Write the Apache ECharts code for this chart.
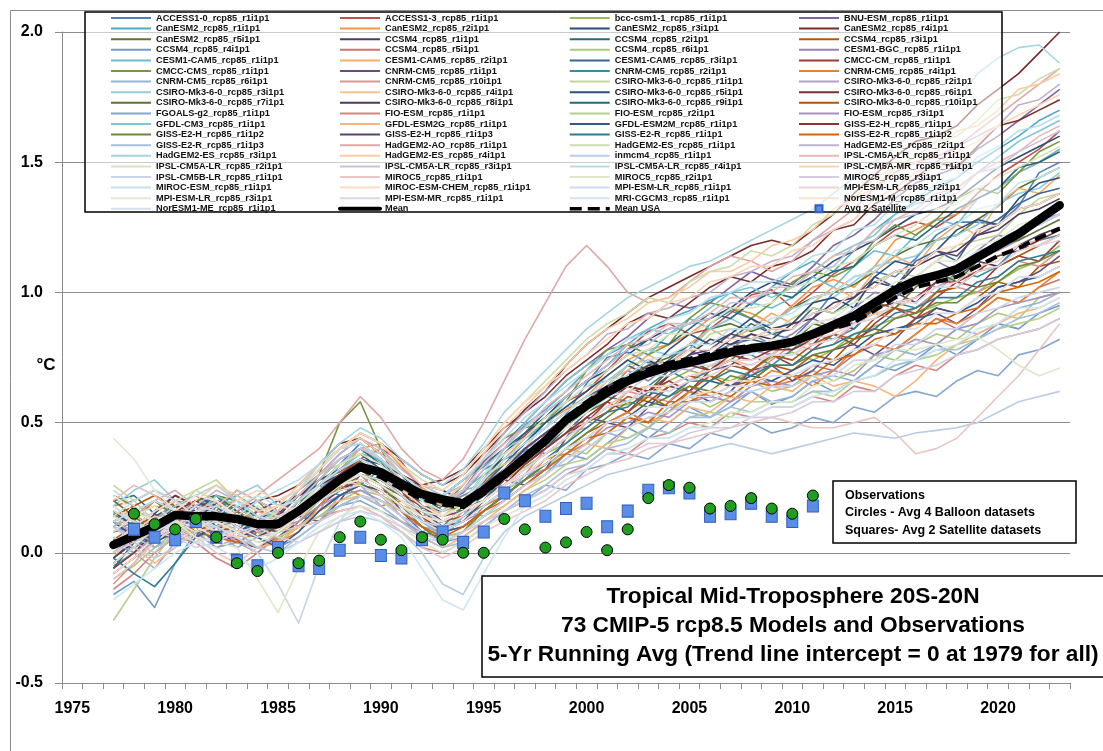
<!DOCTYPE html>
<html><head><meta charset="utf-8">
<script src="https://cdn.jsdelivr.net/npm/echarts@6.0.0/dist/echarts.min.js"></script>
<style>html,body{margin:0;padding:0;background:#fff}#c{width:1103px;height:751px}</style>
</head><body><div id="c"></div>
<script>
// ---- categories (x axis): 1975..2023 ----
const years = [];
for (let y = 1975; y <= 2023; y++) years.push(String(y));
const modelStartYear = 1977;   // model & mean series: 1977..2023
const obsStartYear = 1978;     // observations: 1978..2011

const modelNames = [
'ACCESS1-0_rcp85_r1i1p1','ACCESS1-3_rcp85_r1i1p1','bcc-csm1-1_rcp85_r1i1p1','BNU-ESM_rcp85_r1i1p1',
'CanESM2_rcp85_r1i1p1','CanESM2_rcp85_r2i1p1','CanESM2_rcp85_r3i1p1','CanESM2_rcp85_r4i1p1',
'CanESM2_rcp85_r5i1p1','CCSM4_rcp85_r1i1p1','CCSM4_rcp85_r2i1p1','CCSM4_rcp85_r3i1p1',
'CCSM4_rcp85_r4i1p1','CCSM4_rcp85_r5i1p1','CCSM4_rcp85_r6i1p1','CESM1-BGC_rcp85_r1i1p1',
'CESM1-CAM5_rcp85_r1i1p1','CESM1-CAM5_rcp85_r2i1p1','CESM1-CAM5_rcp85_r3i1p1','CMCC-CM_rcp85_r1i1p1',
'CMCC-CMS_rcp85_r1i1p1','CNRM-CM5_rcp85_r1i1p1','CNRM-CM5_rcp85_r2i1p1','CNRM-CM5_rcp85_r4i1p1',
'CNRM-CM5_rcp85_r6i1p1','CNRM-CM5_rcp85_r10i1p1','CSIRO-Mk3-6-0_rcp85_r1i1p1','CSIRO-Mk3-6-0_rcp85_r2i1p1',
'CSIRO-Mk3-6-0_rcp85_r3i1p1','CSIRO-Mk3-6-0_rcp85_r4i1p1','CSIRO-Mk3-6-0_rcp85_r5i1p1','CSIRO-Mk3-6-0_rcp85_r6i1p1',
'CSIRO-Mk3-6-0_rcp85_r7i1p1','CSIRO-Mk3-6-0_rcp85_r8i1p1','CSIRO-Mk3-6-0_rcp85_r9i1p1','CSIRO-Mk3-6-0_rcp85_r10i1p1',
'FGOALS-g2_rcp85_r1i1p1','FIO-ESM_rcp85_r1i1p1','FIO-ESM_rcp85_r2i1p1','FIO-ESM_rcp85_r3i1p1',
'GFDL-CM3_rcp85_r1i1p1','GFDL-ESM2G_rcp85_r1i1p1','GFDL-ESM2M_rcp85_r1i1p1','GISS-E2-H_rcp85_r1i1p1',
'GISS-E2-H_rcp85_r1i1p2','GISS-E2-H_rcp85_r1i1p3','GISS-E2-R_rcp85_r1i1p1','GISS-E2-R_rcp85_r1i1p2',
'GISS-E2-R_rcp85_r1i1p3','HadGEM2-AO_rcp85_r1i1p1','HadGEM2-ES_rcp85_r1i1p1','HadGEM2-ES_rcp85_r2i1p1',
'HadGEM2-ES_rcp85_r3i1p1','HadGEM2-ES_rcp85_r4i1p1','inmcm4_rcp85_r1i1p1','IPSL-CM5A-LR_rcp85_r1i1p1',
'IPSL-CM5A-LR_rcp85_r2i1p1','IPSL-CM5A-LR_rcp85_r3i1p1','IPSL-CM5A-LR_rcp85_r4i1p1','IPSL-CM5A-MR_rcp85_r1i1p1',
'IPSL-CM5B-LR_rcp85_r1i1p1','MIROC5_rcp85_r1i1p1','MIROC5_rcp85_r2i1p1','MIROC5_rcp85_r3i1p1',
'MIROC-ESM_rcp85_r1i1p1','MIROC-ESM-CHEM_rcp85_r1i1p1','MPI-ESM-LR_rcp85_r1i1p1','MPI-ESM-LR_rcp85_r2i1p1',
'MPI-ESM-LR_rcp85_r3i1p1','MPI-ESM-MR_rcp85_r1i1p1','MRI-CGCM3_rcp85_r1i1p1','NorESM1-M_rcp85_r1i1p1',
'NorESM1-ME_rcp85_r1i1p1'];

// ---- model values, 1977..2023 (°C) ----
const m01=[.08,.10,.08,.11,.13,.19,.22,.17,.12,.14,.22,.34,.42,.36,.25,.17,.19,.23,.32,.36,.39,.41,.53,.65,.75,.77,.73,.73,.78,.88,.93,.90,.84,.82,.90,1.00,1.06,1.08,1.06,1.13,1.22,1.27,1.27,1.26,1.33,1.46,1.50];
const m02=[-.02,.05,.12,.20,.18,.10,.06,.09,.15,.22,.28,.31,.36,.40,.35,.24,.18,.20,.27,.38,.45,.52,.58,.62,.70,.78,.85,.88,.84,.86,.92,.99,1.01,.94,1.00,1.07,1.12,1.18,1.24,1.27,1.25,1.30,1.38,1.45,1.50,1.55,1.62];
const m03=[.12,.15,.09,.05,.10,.16,.14,.08,.05,.12,.20,.25,.27,.22,.18,.16,.19,.22,.25,.28,.33,.38,.42,.50,.56,.57,.60,.66,.70,.68,.66,.70,.75,.77,.74,.78,.84,.87,.90,.92,.95,.98,1.00,1.04,1.09,1.12,1.18];
const m04=[.05,.02,.06,.14,.20,.22,.16,.10,.12,.20,.30,.38,.44,.38,.30,.22,.18,.24,.35,.42,.50,.58,.66,.72,.78,.83,.90,.96,.94,.96,1.02,1.08,1.05,1.03,1.10,1.18,1.22,1.28,1.36,1.42,1.45,1.48,1.55,1.60,1.66,1.72,1.78];
const m05=[-.05,.00,.08,.16,.20,.15,.12,.16,.20,.24,.30,.36,.40,.35,.26,.20,.22,.28,.33,.40,.49,.55,.62,.70,.76,.80,.86,.90,.93,.97,1.00,.95,1.02,1.08,1.12,1.08,1.16,1.24,1.30,1.35,1.40,1.44,1.50,1.55,1.60,1.66,1.70];
const m06=[.10,.14,.18,.16,.10,.06,.08,.14,.18,.22,.26,.32,.40,.42,.33,.25,.20,.18,.26,.36,.44,.50,.55,.60,.68,.74,.78,.80,.84,.90,.94,.92,.88,.95,1.02,1.05,1.02,1.10,1.20,1.24,1.28,1.30,1.36,1.40,1.46,1.50,1.55];
const m07=[.00,.06,.15,.22,.18,.12,.08,.06,.10,.18,.26,.34,.38,.32,.28,.26,.24,.20,.28,.38,.46,.52,.60,.66,.70,.76,.82,.86,.88,.90,.94,1.00,1.04,1.02,1.06,1.12,1.16,1.20,1.25,1.30,1.32,1.36,1.42,1.48,1.52,1.56,1.60];
const m08=[.02,.08,.12,.10,.14,.20,.18,.12,.14,.24,.32,.40,.46,.42,.36,.30,.26,.30,.38,.46,.55,.62,.72,.80,.86,.92,.98,1.02,1.06,1.10,1.14,1.18,1.20,1.18,1.24,1.30,1.38,1.45,1.52,1.58,1.60,1.64,1.72,1.78,1.84,1.92,2.00];
const m09=[.15,.10,.05,.08,.16,.22,.20,.14,.10,.14,.22,.30,.35,.30,.26,.18,.12,.16,.28,.34,.40,.46,.52,.58,.63,.68,.72,.75,.80,.86,.88,.85,.88,.94,.98,1.00,1.03,1.08,1.14,1.18,1.20,1.22,1.28,1.33,1.40,1.44,1.48];
const m10=[-.08,-.02,.05,.10,.12,.08,.04,.02,.06,.12,.18,.24,.28,.24,.20,.16,.14,.18,.22,.28,.34,.40,.46,.54,.60,.64,.60,.68,.74,.70,.72,.78,.76,.82,.80,.88,.86,.94,1.00,.96,1.04,1.06,1.12,1.10,1.18,1.22,1.25];
const m11=[.20,.22,.15,.10,.08,.12,.18,.14,.08,.10,.18,.26,.30,.28,.22,.16,.10,.12,.20,.28,.36,.40,.48,.55,.62,.66,.70,.70,.72,.76,.80,.82,.80,.78,.82,.88,.92,.95,.98,1.04,1.06,1.08,1.14,1.20,1.24,1.26,1.30];
const m12=[.05,.10,.14,.18,.15,.10,.05,.02,.04,.10,.16,.22,.26,.24,.18,.12,.10,.14,.20,.26,.30,.34,.40,.46,.50,.54,.60,.56,.62,.68,.64,.66,.72,.70,.76,.74,.82,.86,.84,.90,.94,.92,.98,1.04,1.02,1.10,1.12];
const m13=[-.16,-.11,-.21,-.04,.08,.14,.10,.06,.02,.06,.12,.18,.22,.20,.16,.10,.06,.08,.14,.20,.26,.30,.38,.36,.42,.48,.44,.50,.56,.52,.56,.62,.57,.60,.66,.62,.66,.72,.70,.74,.80,.76,.82,.88,.86,.92,.95];
const m14=[.18,.20,.24,.20,.14,.10,.12,.16,.14,.18,.22,.26,.28,.24,.18,.12,.08,.10,.16,.22,.28,.34,.40,.44,.50,.54,.50,.58,.64,.60,.64,.70,.64,.66,.72,.70,.76,.80,.78,.84,.90,.86,.92,.98,.96,1.02,1.05];
const m15=[-.10,-.05,.02,.08,.10,.12,.08,.04,.06,.10,.14,.20,.24,.22,.18,.14,.12,.14,.18,.24,.28,.32,.40,.38,.46,.52,.48,.54,.60,.56,.60,.66,.62,.64,.70,.66,.70,.76,.74,.80,.84,.82,.88,.92,.90,.98,1.00];
const m16=[.08,.12,.10,.14,.18,.16,.12,.10,.12,.18,.24,.30,.34,.30,.26,.20,.18,.22,.26,.32,.38,.45,.52,.58,.62,.70,.66,.72,.78,.74,.78,.84,.80,.84,.90,.86,.94,1.00,.98,1.06,1.12,1.08,1.16,1.22,1.20,1.28,1.32];
const m17=[.00,.04,.10,.16,.14,.12,.14,.10,.08,.14,.24,.32,.38,.36,.30,.24,.20,.24,.30,.38,.44,.50,.60,.66,.72,.80,.76,.84,.90,.86,.90,.96,.94,.98,1.06,1.02,1.10,1.16,1.14,1.22,1.28,1.26,1.36,1.40,1.46,1.50,1.55];
const m18=[.14,.16,.12,.10,.12,.18,.20,.16,.12,.16,.22,.28,.34,.32,.28,.22,.16,.18,.26,.34,.40,.46,.52,.58,.66,.70,.76,.72,.80,.86,.82,.86,.92,.88,.96,1.02,.98,1.08,1.14,1.10,1.20,1.26,1.22,1.34,1.40,1.38,1.45];
const m19=[-.04,.02,.08,.14,.18,.20,.16,.10,.08,.14,.20,.28,.34,.30,.24,.18,.16,.20,.26,.34,.42,.48,.54,.60,.64,.72,.68,.74,.80,.76,.82,.88,.84,.86,.94,.92,.98,1.06,1.02,1.12,1.16,1.12,1.24,1.28,1.34,1.38,1.40];
const m20=[.12,.08,.04,.08,.14,.16,.12,.08,.10,.14,.20,.24,.30,.28,.22,.18,.14,.16,.22,.28,.34,.40,.46,.50,.58,.54,.62,.66,.62,.70,.74,.70,.76,.72,.78,.84,.80,.88,.94,.90,.98,1.04,1.02,1.10,1.14,1.12,1.20];
const m21=[.22,.18,.10,.04,.08,.16,.24,.20,.12,.18,.30,.50,.58,.40,.24,.14,.18,.26,.36,.44,.48,.50,.58,.70,.78,.80,.76,.80,.90,.96,.94,.90,.96,1.04,1.08,1.06,1.10,1.20,1.26,1.22,1.28,1.36,1.40,1.38,1.46,1.54,1.58];
const m22=[-.06,.04,.14,.18,.10,.04,.08,.16,.20,.14,.12,.20,.30,.26,.16,.08,.06,.14,.24,.28,.26,.32,.44,.52,.50,.48,.56,.64,.62,.58,.62,.70,.72,.66,.70,.78,.80,.76,.82,.90,.92,.88,.94,1.02,1.04,1.08,1.14];
const m23=[.16,.10,.02,.06,.18,.22,.14,.06,.10,.20,.26,.22,.26,.32,.24,.12,.10,.18,.20,.30,.40,.38,.44,.56,.60,.58,.64,.70,.66,.70,.78,.76,.72,.78,.84,.82,.86,.94,.96,.94,1.00,1.08,1.06,1.10,1.18,1.20,1.22];
const m24=[.02,.12,.20,.14,.06,.08,.16,.12,.04,.08,.18,.26,.22,.18,.20,.14,.04,.08,.18,.22,.28,.36,.38,.42,.50,.54,.50,.54,.62,.60,.58,.64,.70,.68,.64,.70,.78,.80,.78,.84,.90,.88,.92,.98,.96,1.02,1.08];
const m25=[.10,.06,.12,.20,.16,.08,.02,.06,.14,.10,.12,.22,.26,.18,.12,.08,.12,.16,.14,.20,.30,.32,.34,.40,.46,.44,.48,.56,.54,.52,.58,.62,.58,.60,.66,.68,.66,.72,.78,.76,.80,.86,.84,.88,.94,.96,1.00];
const m26=[-.12,-.04,.06,.12,.08,.02,.06,.14,.16,.10,.16,.28,.30,.22,.14,.06,.08,.16,.24,.26,.30,.40,.46,.48,.54,.62,.60,.58,.66,.72,.70,.68,.74,.80,.78,.80,.88,.92,.90,.94,1.00,1.02,1.00,1.06,1.12,1.10,1.16];
const m27=[.26,.20,.12,.16,.24,.28,.20,.12,.14,.22,.30,.34,.38,.40,.30,.18,.14,.20,.30,.34,.40,.50,.56,.58,.64,.72,.74,.72,.76,.84,.86,.82,.84,.90,.94,.92,.96,1.04,1.08,1.06,1.12,1.18,1.20,1.22,1.30,1.36,1.38];
const m28=[.06,.00,-.06,.04,.12,.10,.04,.00,.08,.16,.22,.26,.34,.30,.22,.14,.16,.24,.26,.32,.40,.44,.50,.58,.60,.62,.68,.72,.70,.74,.80,.78,.76,.82,.88,.90,.88,.94,1.00,1.04,1.02,1.06,1.14,1.16,1.20,1.28,1.30];
const m29=[.18,.24,.28,.20,.12,.14,.22,.26,.18,.16,.24,.34,.40,.36,.28,.24,.22,.20,.28,.40,.44,.48,.58,.64,.66,.72,.78,.76,.78,.86,.90,.86,.88,.94,.96,.98,1.04,1.10,1.12,1.14,1.20,1.22,1.26,1.34,1.38,1.40,1.46];
const m30=[-.02,.08,.14,.10,.04,.10,.18,.14,.08,.12,.22,.28,.26,.22,.24,.20,.14,.18,.26,.28,.34,.42,.48,.50,.56,.62,.64,.62,.66,.72,.74,.72,.76,.82,.80,.82,.88,.92,.94,.98,1.04,1.06,1.08,1.14,1.18,1.20,1.24];
const m31=[.12,.06,.10,.18,.22,.18,.10,.08,.14,.22,.28,.32,.36,.34,.30,.22,.16,.20,.30,.36,.42,.50,.56,.62,.68,.74,.70,.78,.84,.80,.84,.90,.86,.88,.96,.98,.94,1.06,1.12,1.10,1.16,1.24,1.28,1.26,1.36,1.42,1.44];
const m32=[.04,.10,.16,.22,.18,.12,.14,.20,.22,.26,.34,.42,.44,.38,.30,.26,.28,.32,.40,.48,.54,.60,.68,.74,.80,.88,.92,.90,.96,1.02,1.06,1.04,1.10,1.12,1.16,1.24,1.26,1.34,1.38,1.44,1.50,1.48,1.56,1.64,1.66,1.70,1.74];
const m33=[.20,.14,.08,.12,.20,.22,.16,.10,.08,.14,.22,.30,.32,.26,.22,.20,.18,.16,.22,.30,.36,.42,.50,.54,.58,.64,.62,.70,.74,.70,.74,.80,.78,.80,.88,.86,.90,.96,.94,1.02,1.08,1.04,1.12,1.18,1.20,1.24,1.28];
const m34=[-.02,.04,.12,.18,.16,.10,.08,.12,.18,.22,.26,.30,.32,.30,.26,.22,.18,.20,.26,.32,.40,.46,.52,.58,.64,.68,.74,.70,.76,.82,.80,.84,.82,.88,.90,.96,.98,1.04,1.02,1.10,1.14,1.16,1.22,1.24,1.30,1.32,1.36];
const m35=[.08,.14,.20,.16,.10,.12,.18,.14,.12,.18,.28,.36,.40,.34,.26,.20,.22,.28,.34,.40,.46,.54,.60,.66,.72,.78,.82,.80,.86,.92,.90,.96,1.00,.98,1.04,1.08,1.10,1.18,1.22,1.20,1.26,1.32,1.36,1.40,1.48,1.50,1.54];
const m36=[.14,.18,.22,.18,.12,.08,.10,.14,.12,.16,.20,.26,.30,.28,.22,.16,.12,.14,.20,.26,.32,.38,.44,.50,.54,.60,.58,.64,.68,.66,.72,.70,.76,.74,.80,.84,.82,.90,.94,.92,1.00,1.02,1.08,1.10,1.14,1.18,1.22];
const m37=[.04,.00,.06,.12,.08,.02,.04,.08,.06,.10,.14,.18,.20,.16,.12,.08,.04,.06,.12,.16,.20,.26,.24,.32,.34,.38,.36,.42,.40,.46,.44,.50,.46,.48,.52,.50,.56,.54,.60,.62,.60,.66,.70,.68,.76,.78,.82];
const m38=[-.14,-.08,.00,.06,.04,-.02,-.06,.00,.06,.10,.14,.16,.18,.14,.08,.02,.00,.04,.10,.16,.20,.24,.30,.34,.40,.38,.44,.46,.50,.48,.54,.52,.56,.56,.60,.58,.64,.62,.68,.72,.70,.76,.78,.82,.84,.86,.90];
const m39=[-.26,-.14,-.02,.08,.14,.20,.14,.08,.06,.10,.14,.18,.22,.20,.16,.10,.06,.08,.14,.18,.24,.28,.34,.36,.42,.44,.48,.46,.52,.54,.52,.58,.58,.58,.62,.60,.66,.68,.72,.74,.76,.80,.82,.86,.88,.90,.94];
const m40=[.00,.06,.10,.08,.04,.06,.10,.14,.10,.12,.18,.22,.24,.20,.14,.10,.08,.12,.16,.22,.28,.32,.38,.42,.48,.50,.54,.52,.58,.60,.58,.64,.66,.64,.68,.70,.68,.76,.78,.82,.80,.86,.88,.94,.96,.98,1.00];
const m41=[.10,.16,.12,.08,.14,.22,.18,.12,.16,.24,.32,.40,.42,.36,.24,.12,.06,.14,.28,.40,.50,.58,.66,.72,.76,.82,.86,.84,.88,.94,1.00,1.02,.98,1.02,1.08,1.14,1.18,1.22,1.30,1.34,1.36,1.40,1.46,1.52,1.58,1.62,1.66];
const m42=[.06,.02,-.04,.02,.10,.14,.08,.02,.04,.10,.16,.20,.22,.18,.12,.06,.02,.06,.12,.18,.24,.30,.36,.42,.40,.48,.52,.50,.56,.54,.60,.58,.64,.62,.68,.64,.66,.64,.60,.66,.74,.80,.84,.88,.92,.94,.98];
const m43=[.16,.10,.04,.08,.14,.18,.12,.06,.02,.08,.16,.22,.26,.24,.18,.12,.08,.10,.16,.22,.28,.34,.40,.44,.50,.52,.58,.56,.60,.66,.64,.68,.66,.70,.74,.72,.78,.84,.86,.88,.94,.92,.96,1.02,1.04,1.06,1.10];
const m44=[-.06,.00,.08,.16,.20,.16,.10,.06,.10,.16,.24,.30,.36,.32,.24,.14,.08,.12,.20,.26,.34,.40,.46,.52,.58,.64,.62,.68,.72,.70,.76,.74,.78,.78,.82,.86,.88,.94,.96,.98,1.04,1.04,1.08,1.14,1.16,1.20,1.24];
const m45=[.12,.16,.20,.14,.08,.06,.10,.14,.18,.20,.22,.26,.30,.26,.18,.10,.04,.08,.16,.22,.28,.34,.40,.46,.52,.58,.56,.60,.64,.62,.68,.66,.72,.72,.76,.78,.82,.84,.90,.92,.96,.96,1.02,1.04,1.10,1.12,1.16];
const m46=[.02,.08,.14,.10,.06,.10,.16,.20,.16,.14,.22,.30,.34,.32,.26,.18,.12,.16,.24,.32,.40,.46,.52,.58,.64,.66,.72,.70,.76,.78,.84,.82,.86,.86,.92,.94,1.00,1.02,1.08,1.10,1.16,1.14,1.22,1.26,1.32,1.34,1.38];
const m47=[-.02,-.08,-.13,-.04,.06,.18,.12,.08,.10,.16,.20,.26,.28,.24,.18,.12,.10,.14,.18,.24,.30,.36,.42,.48,.54,.56,.62,.60,.66,.66,.70,.68,.72,.72,.78,.80,.84,.86,.92,.94,.98,.98,1.04,1.06,1.12,1.14,1.16];
const m48=[.00,.06,.12,.16,.12,.06,.04,.08,.12,.16,.20,.24,.26,.22,.16,.10,.06,.10,.16,.20,.26,.32,.38,.44,.46,.52,.50,.58,.58,.62,.60,.66,.64,.68,.68,.74,.76,.82,.84,.88,.88,.92,.94,1.00,1.02,1.04,1.08];
const m49=[.10,.06,.02,.06,.12,.14,.08,.02,.00,.06,.12,.18,.22,.18,.12,.06,.02,.04,.10,.16,.22,.26,.32,.34,.40,.42,.48,.46,.52,.52,.56,.54,.58,.58,.62,.62,.66,.68,.72,.74,.78,.78,.82,.86,.90,.92,.96];
const m50=[.08,.14,.20,.24,.18,.12,.16,.22,.28,.34,.40,.50,.60,.52,.40,.32,.28,.36,.50,.66,.82,.96,1.10,1.18,1.10,1.00,.96,.98,1.04,1.10,1.14,1.12,1.08,1.12,1.20,1.26,1.32,1.40,1.46,1.50,1.52,1.56,1.62,1.68,1.74,1.80,1.86];
const m51=[.04,.10,.16,.20,.24,.20,.14,.10,.16,.24,.32,.40,.46,.42,.34,.28,.24,.30,.40,.50,.58,.66,.74,.82,.88,.92,.98,.96,1.04,1.08,1.10,1.16,1.14,1.18,1.26,1.30,1.36,1.44,1.48,1.52,1.58,1.60,1.66,1.74,1.76,1.82,1.86];
const m52=[.12,.08,.04,.10,.18,.24,.20,.14,.16,.22,.30,.38,.44,.40,.32,.26,.22,.26,.36,.46,.54,.62,.70,.76,.84,.86,.92,.94,.98,1.00,1.06,1.08,1.12,1.14,1.20,1.24,1.28,1.36,1.40,1.46,1.50,1.56,1.60,1.64,1.72,1.74,1.80];
const m53=[.00,.06,.12,.18,.22,.26,.20,.14,.16,.24,.34,.42,.48,.44,.36,.30,.26,.32,.42,.54,.62,.70,.78,.86,.92,.98,1.02,1.06,1.10,1.12,1.16,1.20,1.24,1.28,1.32,1.38,1.44,1.50,1.56,1.62,1.68,1.74,1.84,1.90,1.94,1.95,1.88];
const m54=[.16,.12,.08,.12,.20,.26,.22,.16,.18,.26,.34,.40,.44,.38,.30,.24,.20,.26,.38,.48,.56,.64,.72,.80,.86,.90,.96,.98,1.02,1.08,1.08,1.12,1.18,1.20,1.24,1.32,1.36,1.40,1.48,1.50,1.54,1.62,1.64,1.70,1.78,1.80,1.84];
const m55=[.06,.02,-.02,.02,.08,.10,.06,.02,.00,.04,.08,.12,.14,.12,.08,.00,-.12,-.16,-.02,.08,.14,.18,.22,.26,.30,.32,.34,.36,.38,.40,.42,.40,.38,.40,.42,.44,.46,.45,.44,.46,.47,.48,.50,.54,.58,.60,.62];
const m56=[.20,.26,.22,.16,.12,.18,.24,.20,.16,.22,.30,.36,.40,.36,.28,.22,.18,.24,.34,.42,.48,.56,.62,.68,.74,.80,.82,.88,.88,.92,.98,.98,1.00,1.06,1.08,1.14,1.16,1.24,1.28,1.32,1.38,1.40,1.46,1.50,1.54,1.60,1.64];
const m57=[-.04,.02,.10,.16,.12,.08,.12,.18,.14,.18,.26,.34,.38,.34,.26,.20,.16,.20,.30,.38,.44,.52,.58,.64,.70,.76,.78,.84,.84,.88,.94,.94,.96,1.02,1.04,1.10,1.12,1.18,1.22,1.26,1.32,1.34,1.40,1.44,1.48,1.52,1.56];
const m58=[.10,.04,.00,.08,.16,.20,.14,.08,.12,.20,.28,.36,.40,.38,.30,.24,.20,.24,.32,.40,.48,.54,.60,.66,.72,.78,.80,.86,.88,.90,.96,.96,1.02,1.02,1.08,1.10,1.18,1.20,1.28,1.30,1.36,1.38,1.46,1.48,1.54,1.58,1.62];
const m59=[.14,.20,.24,.20,.14,.10,.14,.20,.24,.28,.34,.40,.42,.36,.30,.24,.22,.28,.36,.44,.52,.58,.64,.70,.76,.82,.84,.90,.92,.98,1.00,1.04,1.04,1.08,1.14,1.16,1.24,1.26,1.34,1.36,1.42,1.44,1.52,1.56,1.62,1.64,1.68];
const m60=[.02,.08,.14,.12,.08,.14,.20,.24,.20,.24,.32,.40,.46,.42,.34,.26,.24,.30,.40,.50,.58,.64,.70,.76,.82,.88,.90,.96,.98,1.04,1.06,1.10,1.10,1.16,1.18,1.24,1.28,1.36,1.40,1.46,1.48,1.54,1.58,1.64,1.68,1.72,1.76];
const m61=[.24,.18,.12,.08,.12,.10,.06,.00,-.12,-.27,-.05,.12,.22,.20,.14,.08,.04,.08,.14,.20,.26,.30,.36,.40,.46,.48,.52,.54,.58,.58,.62,.62,.64,.64,.68,.68,.74,.74,.80,.80,.86,.86,.92,.94,.98,1.00,1.02];
const m62=[-.10,-.04,.04,.10,.06,.00,-.04,.02,.08,.10,.12,.16,.18,.14,.08,.02,-.02,.02,.08,.12,.16,.20,.26,.30,.34,.36,.40,.42,.44,.46,.48,.50,.52,.50,.48,.48,.50,.52,.46,.38,.40,.44,.52,.60,.68,.78,.88];
const m63=[.08,.14,.18,.12,.06,.04,.02,-.10,-.23,-.06,.08,.14,.18,.16,.10,.04,.00,.04,.10,.14,.18,.22,.28,.32,.38,.40,.44,.44,.48,.50,.54,.54,.58,.58,.64,.66,.72,.74,.78,.78,.80,.82,.83,.78,.72,.68,.71];
const m64=[.00,.04,.08,.06,.02,.04,.08,.10,.06,.04,.08,.12,.16,.14,.10,.06,.04,.08,.12,.16,.20,.24,.30,.32,.38,.38,.42,.42,.46,.48,.48,.52,.52,.54,.58,.58,.62,.62,.68,.70,.72,.76,.78,.82,.84,.86,.90];
const m65=[.12,.16,.20,.16,.10,.12,.18,.22,.18,.20,.26,.32,.36,.32,.26,.20,.16,.20,.28,.36,.42,.48,.54,.60,.66,.68,.74,.76,.80,.80,.86,.86,.90,.92,.98,1.00,1.06,1.08,1.16,1.18,1.24,1.26,1.32,1.34,1.42,1.44,1.48];
const m66=[-.08,-.02,.06,.12,.10,.06,.08,.14,.18,.16,.20,.26,.32,.30,.24,.18,.14,.18,.24,.32,.38,.44,.50,.56,.62,.66,.70,.72,.78,.78,.82,.82,.86,.86,.92,.94,1.00,1.02,1.08,1.10,1.16,1.18,1.24,1.26,1.32,1.34,1.38];
const m67=[.18,.12,.08,.12,.18,.16,.10,.06,.08,.14,.20,.26,.30,.28,.22,.16,.12,.16,.22,.30,.36,.42,.48,.54,.60,.62,.68,.68,.72,.72,.76,.76,.80,.80,.86,.88,.94,.96,1.02,1.04,1.08,1.10,1.16,1.18,1.24,1.26,1.30];
const m68=[.04,.10,.16,.20,.14,.08,.06,.10,.14,.18,.24,.28,.30,.26,.20,.14,.10,.14,.20,.26,.32,.38,.44,.50,.56,.58,.64,.64,.68,.70,.74,.74,.76,.76,.82,.84,.88,.90,.96,.98,1.02,1.04,1.10,1.12,1.18,1.18,1.22];
const m69=[.44,.36,.24,.16,.14,.12,.08,.04,.08,.14,.20,.26,.30,.26,.20,.16,.14,.18,.24,.30,.36,.42,.48,.54,.62,.64,.68,.70,.74,.74,.78,.78,.82,.82,.88,.90,.96,.98,1.04,1.06,1.12,1.12,1.18,1.20,1.26,1.28,1.32];
const m70=[.14,.10,.06,.10,.16,.18,.14,.10,.12,.16,.22,.26,.28,.24,.18,.12,.10,.14,.20,.26,.32,.38,.44,.50,.56,.58,.62,.62,.66,.68,.72,.72,.76,.76,.80,.82,.88,.90,.96,.96,1.02,1.02,1.08,1.10,1.16,1.18,1.20];
const m71=[-.18,-.12,-.06,.00,.04,.02,-.02,-.06,-.02,.04,.10,.14,.16,.12,.06,-.06,-.18,-.22,-.08,.06,.18,.22,.28,.32,.38,.40,.44,.44,.48,.48,.52,.52,.56,.56,.60,.62,.66,.68,.74,.74,.78,.80,.86,.88,.94,.94,.98];
const m72=[.22,.16,.12,.16,.22,.20,.14,.10,.12,.18,.22,.26,.28,.24,.18,.14,.12,.16,.20,.26,.30,.36,.40,.44,.50,.52,.56,.56,.60,.62,.66,.66,.68,.68,.72,.74,.78,.80,.86,.86,.92,.92,.98,1.00,1.06,1.06,1.10];
const m73=[.02,.08,.12,.08,.04,.06,.10,.14,.12,.16,.20,.24,.26,.22,.16,.12,.08,.12,.18,.24,.30,.34,.40,.44,.50,.52,.56,.56,.60,.60,.64,.64,.68,.68,.72,.74,.78,.80,.86,.86,.92,.92,.98,1.00,1.06,1.06,1.10];

// ---- multi-model means, 1977..2023 ----
const meanAll=[.03,.065,.10,.145,.14,.14,.13,.11,.11,.16,.22,.28,.33,.31,.265,.225,.205,.19,.24,.30,.365,.43,.51,.565,.615,.66,.69,.715,.73,.75,.77,.785,.795,.81,.84,.875,.91,.96,1.01,1.045,1.065,1.09,1.135,1.18,1.225,1.28,1.335];
const meanUSA=[.03,.07,.11,.15,.145,.14,.13,.115,.12,.165,.225,.28,.32,.29,.245,.205,.185,.175,.225,.29,.36,.435,.52,.58,.635,.675,.705,.73,.745,.765,.785,.795,.80,.81,.83,.86,.885,.93,.98,1.02,1.04,1.06,1.10,1.14,1.17,1.21,1.245];

// ---- observations, 1978..2011 ----
const balloonAvg=[.15,.11,.09,.13,.06,-.04,-.07,.00,-.04,-.03,.06,.12,.05,.01,.06,.05,.00,.00,.13,.09,.02,.04,.08,.01,.09,.21,.26,.25,.17,.18,.21,.17,.15,.22];
const satelliteAvg=[.09,.06,.05,.12,.06,-.03,-.05,.02,-.05,-.06,.01,.06,-.01,-.02,.05,.08,.04,.08,.23,.20,.14,.17,.19,.10,.16,.24,.25,.23,.14,.15,.19,.14,.12,.18];

const modelValues=[m01,m02,m03,m04,m05,m06,m07,m08,m09,m10,m11,m12,m13,m14,m15,m16,m17,m18,m19,m20,
m21,m22,m23,m24,m25,m26,m27,m28,m29,m30,m31,m32,m33,m34,m35,m36,m37,m38,m39,m40,m41,m42,m43,m44,m45,
m46,m47,m48,m49,m50,m51,m52,m53,m54,m55,m56,m57,m58,m59,m60,m61,m62,m63,m64,m65,m66,m67,m68,m69,m70,m71,m72,m73];

const modelColors=['#4F81BD','#C0504D','#9BBB59','#8064A2','#4BACC6','#F79646',
'#2C4D75','#772C2A','#5F7530','#4D3B62','#276A7C','#B65708',
'#729ACA','#CD7371','#AFC97A','#9983B5','#6FBDD1','#F9AB6B',
'#3A6595','#9C3D3A','#799540','#644F80','#358CA3','#E8802E',
'#95B3D7','#D99694','#C3D69B','#B3A2C7','#93CDDD','#FAC090',
'#2D4F78','#7A302D','#5C7230','#4B3B61','#27687A','#B0560E',
'#83A6D2','#D48684','#B6D08A','#A692BE','#81C6D7','#F9B57D',
'#325989','#8D3532','#6B8938','#594473','#2E7D91','#D56509',
'#A7BFDE','#DFA7A6','#CDDDAC','#BFB1D0','#A5D5E2','#FBCAA2',
'#B9CDE5','#E6B9B8','#D7E4BD','#CCC1DA','#B7DEE8','#FCD5B5',
'#C6D5E9','#EAC6C5','#DDE8C8','#D5CCE2','#C3E3EC','#FDDCC2',
'#CDDBEE','#EED1D0','#E2EBD2','#DCD5E8','#CDE8F0','#FDE2CD','#D3DFF0'];

const FONT = "'Liberation Sans', Arial, sans-serif";

const lead = new Array(modelStartYear - 1975).fill(null);
const series = [];
modelValues.forEach((vals, i) => {
  series.push({
    name: modelNames[i], type: 'line', data: lead.concat(vals),
    symbol: 'none', silent: true, z: 2,
    lineStyle: { width: 1.6, color: modelColors[i], join: 'round' },
    itemStyle: { color: modelColors[i] }
  });
});
series.push({
  name: 'Mean', type: 'line', data: lead.concat(meanAll), symbol: 'none', silent: true, z: 5,
  lineStyle: { width: 8.5, color: '#000', cap: 'round', join: 'round' }, itemStyle: { color: '#000' }
});
series.push({
  name: 'Mean USA', type: 'line', data: lead.concat(meanUSA), symbol: 'none', silent: true, z: 6,
  lineStyle: { width: 4, color: '#000', type: [12, 6] }, itemStyle: { color: '#000' }
});
series.push({
  name: 'Avg 2 Satellite', type: 'scatter', silent: true, z: 7,
  data: satelliteAvg.map((v, i) => [String(obsStartYear + i), v]),
  symbol: 'rect', symbolSize: [11, 12],
  itemStyle: { color: '#5A8DE6', borderColor: '#2F5FBF', borderWidth: 1, opacity: 1 }
});
series.push({
  name: 'Avg 4 Balloon', type: 'scatter', silent: true, z: 8,
  data: balloonAvg.map((v, i) => [String(obsStartYear + i), v]),
  symbol: 'circle', symbolSize: 11,
  itemStyle: { color: '#1F9E1F', borderColor: '#000', borderWidth: 1, opacity: 1 }
});

const legendNames = modelNames.concat(['Mean', 'Mean USA', 'Avg 2 Satellite']);
function legendItem(n) {
  if (n === 'Mean') return { name: n, lineStyle: { width: 4 } };
  if (n === 'Mean USA') return { name: n, lineStyle: { width: 3.5 } };
  if (n === 'Avg 2 Satellite') return { name: n, icon: 'path://M0,0H10V10H0Z', itemStyle: { opacity: 1 } };
  return { name: n };
}
const colLeft = [110, 338, 568, 798];
const legends = colLeft.map((left, c) => ({
  orient: 'vertical', left: left, top: 12.7, padding: 0, itemGap: 0,
  itemWidth: 40, itemHeight: 7, selectedMode: false, z: 4,
  itemStyle: { opacity: 0 },
  textStyle: { fontSize: 9.2, fontWeight: 'bold', fontFamily: FONT, color: '#111', lineHeight: 10.6 },
  data: legendNames.filter((n, i) => i % 4 === c).map(legendItem)
}));

const chart = echarts.init(document.getElementById('c'), null, { renderer: 'canvas' });
chart.setOption({
  animation: false,
  backgroundColor: '#fff',
  textStyle: { fontFamily: FONT },
  grid: { left: 62, right: 33, top: 32, bottom: 68, containLabel: false, outerBoundsMode: 'none' },
  legend: legends,
  xAxis: {
    type: 'category', data: years, boundaryGap: true,
    axisLine: { onZero: false, lineStyle: { color: '#8c8c8c', width: 1 } },
    axisTick: { show: true, interval: 0, length: 6, lineStyle: { color: '#8c8c8c' } },
    axisLabel: { interval: 4, fontSize: 16, fontWeight: 'bold', color: '#000', margin: 18, fontFamily: FONT },
    splitLine: { show: false }
  },
  yAxis: {
    type: 'value', min: -0.5, max: 2.0, interval: 0.5,
    axisLine: { show: true, lineStyle: { color: '#8c8c8c', width: 1 } },
    axisTick: { show: true, length: 7, lineStyle: { color: '#8c8c8c' } },
    axisLabel: { formatter: v => v.toFixed(1), fontSize: 16, fontWeight: 'bold', color: '#000', margin: 19, fontFamily: FONT },
    splitLine: { show: true, lineStyle: { color: '#8c8c8c', width: 1 } }
  },
  graphic: [
    { type: 'rect', z: 0, silent: true, shape: { x: 10.5, y: 10.5, width: 1200, height: 800 },
      style: { fill: 'none', stroke: '#8c8c8c', lineWidth: 1 } },
    { type: 'text', z: 11, silent: true, x: 46, y: 365,
      style: { text: '°C', font: 'bold 17px ' + FONT, fill: '#000', textAlign: 'center', textVerticalAlign: 'middle' } },
    { type: 'rect', z: 3, silent: true, shape: { x: 85, y: 12, width: 917, height: 200 },
      style: { fill: 'rgba(255,255,255,0.55)', stroke: '#000', lineWidth: 1.5 } },
    { type: 'rect', z: 10, silent: true, shape: { x: 833, y: 481, width: 243, height: 62 },
      style: { fill: '#fff', stroke: '#000', lineWidth: 1.5 } },
    { type: 'text', z: 11, silent: true, x: 845, y: 495.5,
      style: { text: 'Observations', font: 'bold 12.5px ' + FONT, fill: '#000', textVerticalAlign: 'middle' } },
    { type: 'text', z: 11, silent: true, x: 845, y: 513,
      style: { text: 'Circles - Avg 4 Balloon datasets', font: 'bold 12.5px ' + FONT, fill: '#000', textVerticalAlign: 'middle' } },
    { type: 'text', z: 11, silent: true, x: 845, y: 531,
      style: { text: 'Squares- Avg 2 Satellite datasets', font: 'bold 12.5px ' + FONT, fill: '#000', textVerticalAlign: 'middle' } },
    { type: 'rect', z: 10, silent: true, shape: { x: 482, y: 576, width: 624, height: 101 },
      style: { fill: '#fff', stroke: '#000', lineWidth: 1.5 } },
    { type: 'text', z: 11, silent: true, x: 793, y: 597,
      style: { text: 'Tropical Mid-Troposphere 20S-20N', font: 'bold 22.7px ' + FONT, fill: '#000', textAlign: 'center', textVerticalAlign: 'middle' } },
    { type: 'text', z: 11, silent: true, x: 793, y: 626,
      style: { text: '73 CMIP-5 rcp8.5 Models and Observations', font: 'bold 22.7px ' + FONT, fill: '#000', textAlign: 'center', textVerticalAlign: 'middle' } },
    { type: 'text', z: 11, silent: true, x: 793, y: 655,
      style: { text: '5-Yr Running Avg (Trend line intercept = 0 at 1979 for all)', font: 'bold 22.7px ' + FONT, fill: '#000', textAlign: 'center', textVerticalAlign: 'middle' } }
  ],
  series: series
});
</script>
</body></html>
